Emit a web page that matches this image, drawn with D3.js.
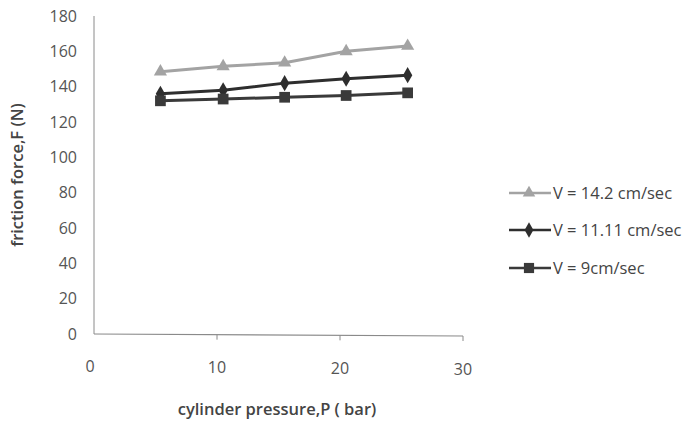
<!DOCTYPE html>
<html><head><meta charset="utf-8">
<script src="https://cdn.jsdelivr.net/npm/d3@7"></script>
<style>body{margin:0;background:#fff}svg{display:block}</style>
</head><body>
<svg id="c" width="696" height="423"></svg>
<script>
const pressure = [5.4, 10.5, 15.5, 20.5, 25.5];
const seriesNames = ["V = 14.2 cm/sec", "V = 11.11 cm/sec", "V = 9cm/sec"];
const v142 = [148.5, 151.5, 153.5, 160, 163];
const v1111 = [136, 138, 142, 144.5, 146.5];
const v9 = [132, 133, 134, 135, 136.5];
const xTicks = [0, 10, 20, 30];
const yTicks = [0, 20, 40, 60, 80, 100, 120, 140, 160, 180];

const series = [
  {name: seriesNames[0], values: v142, color: "#a3a3a3", sym: d3.symbolTriangle, size: 75},
  {name: seriesNames[1], values: v1111, color: "#2e2e2e", sym: d3.symbolDiamond, size: 75},
  {name: seriesNames[2], values: v9, color: "#3a3a3a", sym: d3.symbolSquare, size: 115}
];

const svg = d3.select("#c");
const font = "'Open Sans', sans-serif";
const x = d3.scaleLinear().domain([0, 30]).range([94, 463]);
const y = d3.scaleLinear().domain([0, 180]).range([334, 16]);

// axes lines
svg.append("line").attr("x1", 94).attr("x2", 94).attr("y1", y(180)).attr("y2", y(0))
  .attr("stroke", "#8a8a8a").attr("stroke-width", 1);
svg.append("line").attr("x1", 94).attr("x2", 463).attr("y1", y(0)).attr("y2", y(0) + 2)
  .attr("stroke", "#8a8a8a").attr("stroke-width", 1.2);
xTicks.slice(1).forEach(t => {
  svg.append("line").attr("x1", x(t)).attr("x2", x(t))
    .attr("y1", y(0) + 2 * t / 30).attr("y2", y(0) + 2 * t / 30 + 5)
    .attr("stroke", "#8a8a8a");
});

// tick labels
svg.selectAll("text.yt").data(yTicks).enter().append("text")
  .attr("x", 77).attr("y", d => y(d) + 5.5).attr("text-anchor", "end")
  .attr("font-family", font).attr("font-size", 16).attr("fill", "#555")
  .text(d => d);
svg.selectAll("text.xt").data(xTicks).enter().append("text")
  .attr("x", d => x(d) - (d === 0 ? 4 : 0)).attr("y", d => 372 + 3 * d / 30).attr("text-anchor", "middle")
  .attr("font-family", font).attr("font-size", 16).attr("fill", "#555")
  .text(d => d);

// titles
svg.append("text").attr("transform", "translate(23,175) rotate(-90)")
  .attr("text-anchor", "middle").attr("font-family", font).attr("font-size", 16.5)
  .attr("font-weight", "600").attr("fill", "#444").text("friction force,F (N)");
svg.append("text").attr("x", 277).attr("y", 415)
  .attr("text-anchor", "middle").attr("font-family", font).attr("font-size", 16.5)
  .attr("font-weight", "600").attr("fill", "#444").text("cylinder pressure,P ( bar)");

// series
const line = d3.line().x(d => x(d[0])).y(d => y(d[1]));
series.forEach(s => {
  const pts = pressure.map((p, i) => [p, s.values[i]]);
  svg.append("path").attr("d", line(pts)).attr("fill", "none")
    .attr("stroke", s.color).attr("stroke-width", 3);
  svg.selectAll(null).data(pts).enter().append("path")
    .attr("d", d3.symbol().type(s.sym).size(s.size))
    .attr("transform", d => `translate(${x(d[0])},${y(d[1])})`)
    .attr("fill", s.color);
});

// legend
const ly = [193, 230, 268];
series.forEach((s, i) => {
  const g = svg.append("g").attr("transform", `translate(509,${ly[i]})`);
  g.append("line").attr("x1", 0).attr("x2", 42).attr("y1", 0).attr("y2", 0)
    .attr("stroke", s.color).attr("stroke-width", 2.5);
  g.append("path").attr("d", d3.symbol().type(s.sym).size(s.size * 0.9))
    .attr("transform", "translate(20,0)").attr("fill", s.color);
  g.append("text").attr("x", 44).attr("y", 6).attr("font-family", font)
    .attr("font-size", 16.5).attr("fill", "#444").text(s.name);
});
</script>
</body></html>
